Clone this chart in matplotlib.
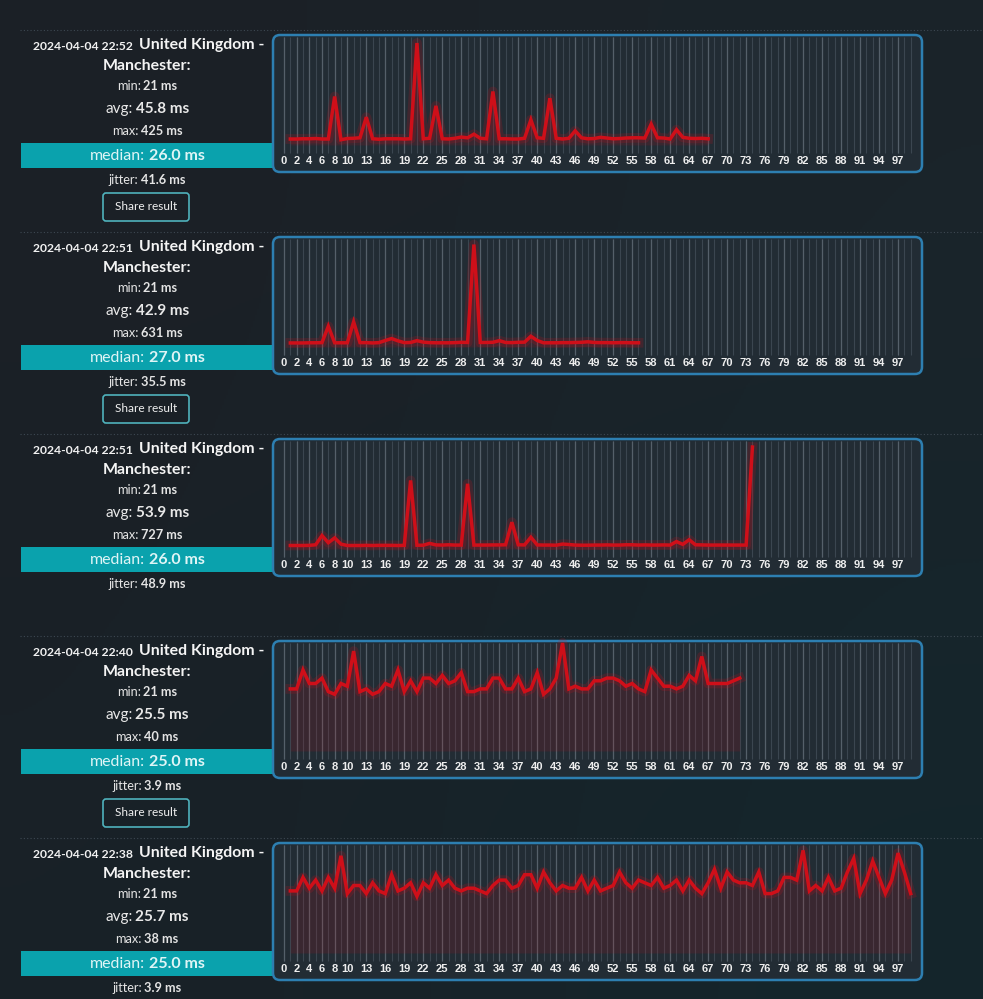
import matplotlib
matplotlib.use("Agg")
import matplotlib.pyplot as plt
import numpy as np
from matplotlib.patches import FancyBboxPatch, Rectangle

W, H = 983, 999

# --- results shown in the screenshot ---
stamps = ["2024-04-04 22:52", "2024-04-04 22:51", "2024-04-04 22:51",
          "2024-04-04 22:40", "2024-04-04 22:38"]
place = "United Kingdom -"
city = "Manchester:"
min_ms = ["21", "21", "21", "21", "21"]
avg_ms = ["45.8", "42.9", "53.9", "25.5", "25.7"]
max_ms = ["425", "631", "727", "40", "38"]
median_ms = ["26.0", "27.0", "26.0", "25.0", "25.0"]
jitter_ms = ["41.6", "35.5", "48.9", "3.9", "3.9"]
has_share = [True, True, False, True, False]  # last one is below the crop

# ping samples (ms), sample 1..n
pings_1 = [25, 25, 26, 26, 27, 25, 25, 202, 22, 27, 28, 30, 116, 26, 24, 26, 26, 26,
           25, 26, 425, 26, 28, 163, 26, 25, 28, 33, 30, 45, 28, 26, 223, 26, 26, 25,
           25, 28, 105, 30, 28, 195, 28, 25, 28, 59, 30, 26, 27, 32, 29, 26, 27, 29,
           30, 30, 29, 87, 30, 29, 25, 64, 32, 28, 27, 28, 26]
pings_2 = [25, 25, 25, 26, 26, 27, 128, 26, 26, 26, 155, 27, 27, 25, 27, 40, 52, 38,
           27, 28, 39, 30, 27, 26, 26, 26, 27, 29, 28, 631, 28, 28, 29, 39, 28, 27,
           29, 30, 66, 40, 26, 26, 26, 27, 27, 28, 29, 32, 28, 27, 27, 26, 27, 27,
           26, 26]
pings_3 = [25, 25, 25, 26, 30, 96, 45, 79, 35, 25, 25, 25, 26, 25, 26, 26, 26, 25,
           26, 489, 27, 27, 40, 29, 28, 30, 28, 28, 465, 28, 28, 28, 29, 29, 30, 191,
           30, 29, 84, 29, 28, 28, 27, 35, 32, 28, 27, 27, 28, 28, 29, 28, 28, 30,
           30, 28, 29, 28, 28, 29, 28, 53, 33, 66, 30, 29, 28, 28, 28, 28, 28, 28,
           28, 727]
pings_4 = [23, 23, 30, 25, 25, 27, 22, 21, 25, 24, 37, 22, 23, 21, 22, 25, 24, 30,
           22, 26, 22, 27, 27, 25, 28, 25, 26, 29, 22, 22, 23, 23, 27, 27, 23, 23,
           27, 22, 23, 29, 21, 23, 27, 40, 23, 24, 23, 23, 26, 26, 27, 27, 26, 24,
           25, 23, 22, 30, 27, 24, 24, 23, 24, 28, 26, 35, 25, 25, 25, 25, 26, 27]
pings_5 = [23, 23, 28, 24, 27, 23, 28, 24, 36, 22, 25, 25, 22, 26, 23, 22, 29, 23,
           24, 26, 21, 26, 24, 29, 25, 27, 24, 23, 24, 24, 23, 22, 25, 27, 27, 24,
           25, 29, 29, 24, 30, 26, 23, 25, 24, 24, 28, 23, 27, 23, 24, 25, 30, 26,
           24, 27, 26, 25, 28, 24, 25, 27, 23, 27, 24, 22, 26, 31, 24, 30, 27, 26,
           26, 25, 30, 22, 22, 23, 28, 28, 27, 38, 23, 25, 23, 28, 23, 24, 30, 35,
           22, 27, 34, 28, 22, 27, 37, 30, 22]
series = [pings_1, pings_2, pings_3, pings_4, pings_5]

tick_labels = [0, 2, 4, 6, 8, 10, 13, 16, 19, 22, 25, 28, 31, 34, 37, 40, 43, 46,
               49, 52, 55, 58, 61, 64, 67, 70, 73, 76, 79, 82, 85, 88, 91, 94, 97]
n_slots = 100
y_top = [450, 665, 770, 40, 40]

FONT = ["Lato", "DejaVu Sans"]
plt.rcParams["font.family"] = FONT

fig = plt.figure(figsize=(W / 100, H / 100), dpi=100)
bg = fig.add_axes([0, 0, 1, 1])
bg.set_xlim(0, W)
bg.set_ylim(H, 0)
bg.axis("off")

# page background, a soft dark gradient
grad = np.array([[[28, 32, 38], [27, 36, 42]],
                 [[25, 33, 39], [20, 38, 44]]]) / 255.0
bg.imshow(grad, extent=[0, W, H, 0], interpolation="bicubic", aspect="auto", zorder=0)

renderer = fig.canvas.get_renderer()


def two_part(cx, y, label, value, size, color, gap=3.5):
    t1 = bg.text(0, y, label, fontsize=size, color=color, va="center", ha="left",
                 zorder=5)
    t2 = bg.text(0, y, value, fontsize=size, color=color, va="center", ha="left",
                 fontweight="bold", zorder=5)
    w1 = t1.get_window_extent(renderer).width
    w2 = t2.get_window_extent(renderer).width
    left = cx - (w1 + gap + w2) / 2
    t1.set_x(left)
    t2.set_x(left + w1 + gap)


box_x0, box_x1 = 273, 922
for k in range(5):
    bt = 35 + 202 * k

    # dotted separator above each result
    bg.plot([20, W], [bt - 5, bt - 5], color="#3d4852", lw=0.8,
            ls=(0, (1, 2)), zorder=2)

    # left column
    bg.text(133, bt + 11, stamps[k], fontsize=8.7, fontweight="bold", color="#f2f2f2",
            ha="right", va="center", zorder=5)
    bg.text(139, bt + 10, place, fontsize=11.4, fontweight="bold", color="#f4f4f4",
            ha="left", va="center", zorder=5)
    bg.text(147, bt + 31, city, fontsize=11.4, fontweight="bold", color="#f4f4f4",
            ha="center", va="center", zorder=5)
    two_part(147, bt + 51, "min:", min_ms[k] + " ms", 9.2, "#e4e4e4", gap=2.5)
    two_part(147, bt + 74, "avg:", avg_ms[k] + " ms", 11, "#e8e8e8", gap=3)
    two_part(147, bt + 96, "max:", max_ms[k] + " ms", 9.2, "#e4e4e4", gap=2.5)
    bg.add_patch(Rectangle((21, bt + 108), 252, 25, facecolor="#0aa2ad",
                           edgecolor="none", zorder=3))
    two_part(147, bt + 121, "median:", median_ms[k] + " ms", 11.5, "#dff5f6", gap=4)
    two_part(147, bt + 145, "jitter:", jitter_ms[k] + " ms", 9.2, "#e4e4e4", gap=2.5)
    if has_share[k]:
        bg.add_patch(FancyBboxPatch((103, bt + 158), 86, 28,
                                    boxstyle="round,pad=0,rounding_size=3",
                                    facecolor="none", edgecolor="#4fb2bc", lw=1.2,
                                    zorder=4))
        bg.text(146, bt + 172, "Share result", fontsize=8.6, color="#f0f0f0",
                ha="center", va="center", zorder=5)

    # chart card
    bg.add_patch(FancyBboxPatch((box_x0, bt), box_x1 - box_x0, 137,
                                boxstyle="round,pad=0,rounding_size=7",
                                facecolor="#222c34", edgecolor="#2d7fb1", lw=1.8,
                                zorder=3))

    # plot area: sample 0 at x=284, sample 99 at x~911, 108 px high
    step = (910.7 - 284) / 99
    px0 = 284 - step / 2
    px1 = 910.7 + step / 2
    py0 = bt + 2
    ph = 108
    ax = fig.add_axes([px0 / W, 1 - (py0 + ph) / H, (px1 - px0) / W, ph / H])
    ax.set_facecolor("none")
    ax.set_zorder(10)
    ax.set_xlim(-0.5, n_slots - 0.5)
    ax.set_ylim(0, y_top[k])
    for s in ax.spines.values():
        s.set_visible(False)
    ax.set_yticks([])

    slots = np.arange(n_slots)
    ax.vlines(slots, -0.07, 1, transform=ax.get_xaxis_transform(), colors="#3b4650",
              lw=0.8, clip_on=False, zorder=1)
    ax.vlines(tick_labels, -0.07, 1, transform=ax.get_xaxis_transform(),
              colors="#55606a", lw=0.9, clip_on=False, zorder=1)

    p = series[k]
    x = np.arange(1, len(p) + 1)
    ax.fill_between(x, p, 0, color="#b3131f", alpha=0.16, lw=0, zorder=2)
    ax.plot(x, p, color="#d0101b", lw=7, alpha=0.18, solid_joinstyle="round",
            clip_on=False, zorder=3)
    ax.plot(x, p, color="#cf0f19", lw=2.5, solid_joinstyle="miter",
            clip_on=False, zorder=4)

    ax.set_xticks(tick_labels)
    ax.set_xticklabels([str(t) for t in tick_labels], fontsize=8, fontweight="bold",
                       color="#eeeeee", family=["Liberation Sans", "DejaVu Sans"])
    ax.tick_params(axis="x", length=0, pad=8)

fig.savefig("out.png", dpi=100, facecolor="#1b2127")
